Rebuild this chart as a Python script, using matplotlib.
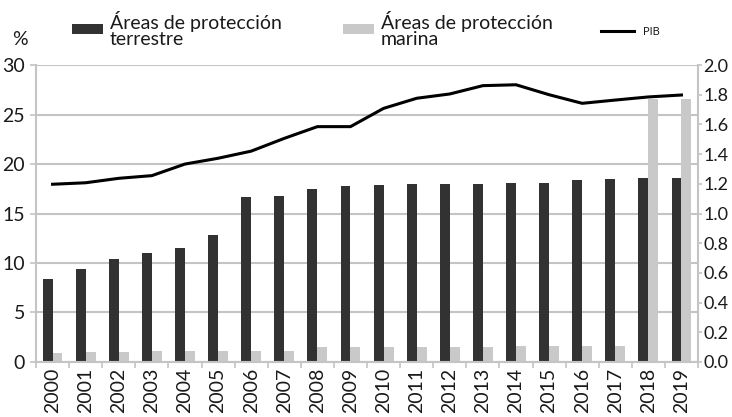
import numpy as np
import matplotlib.pyplot as plt

years = [str(y) for y in range(2000, 2020)]
terrestre = [8.4, 9.4, 10.45, 11.0, 11.5, 12.8, 16.7, 16.8, 17.45, 17.8,
             17.9, 17.95, 17.95, 17.95, 18.05, 18.05, 18.4, 18.5, 18.6, 18.6]
marina = [0.95, 1.0, 1.0, 1.1, 1.1, 1.1, 1.15, 1.1, 1.5, 1.5,
          1.55, 1.55, 1.55, 1.55, 1.65, 1.65, 1.65, 1.65, 26.6, 26.6]
pib = [1.197, 1.207, 1.237, 1.255, 1.333, 1.372, 1.42, 1.506, 1.585, 1.585,
       1.708, 1.776, 1.805, 1.861, 1.867, 1.80, 1.742, 1.764, 1.785, 1.798]

plt.rcParams['font.family'] = ['Lato', 'DejaVu Sans']

grid_c = '#c4c4c4'
dark = '#323232'
light = '#c9c9c9'
txt = '#1a1a1a'
fs = 14

fig = plt.figure(figsize=(7.32, 4.17), dpi=100)
ax = fig.add_axes([0.0492, 0.1319, 0.9044, 0.7122])
x = np.arange(len(years))
w = 0.3

ax.set_axisbelow(True)
ax.yaxis.grid(True, color=grid_c, lw=1.5)
b1 = ax.bar(x - w / 2, terrestre, w, color=dark, label='Áreas de protección\nterrestre')
b2 = ax.bar(x + w / 2, marina, w, color=light, label='Áreas de protección\nmarina')
ax.set_xlim(-0.5, len(years) - 0.5)
ax.set_ylim(0, 30)
ax.set_yticks(range(0, 31, 5))
ax.set_xticks(x)
ax.set_xticklabels(years, rotation=90)
ax.set_xticks(np.arange(-0.5, len(years), 1), minor=True)
ax.tick_params(axis='x', which='major', length=0, pad=4, labelsize=fs, labelcolor=txt)
ax.tick_params(axis='x', which='minor', length=4, color=grid_c, width=1.2)
ax.tick_params(axis='y', length=4, color=grid_c, width=1.2, labelsize=fs, pad=4,
               labelcolor=txt)
for s in ['top', 'right']:
    ax.spines[s].set_visible(False)
for s in ['left', 'bottom']:
    ax.spines[s].set_color(grid_c)
    ax.spines[s].set_linewidth(1.5)

ax2 = ax.twinx()
l1, = ax2.plot(x, pib, color='black', lw=2.2, label='PIB')
ax2.set_ylim(0, 2.0)
ax2.set_yticks(np.arange(0, 2.01, 0.2))
ax2.set_yticklabels([f'{v:.1f}' for v in np.arange(0, 2.01, 0.2)])
ax2.tick_params(axis='y', length=3, color=grid_c, width=1.2, labelsize=13, pad=1,
                labelcolor=txt)
for s in ['top', 'left', 'bottom']:
    ax2.spines[s].set_visible(False)
ax2.spines['right'].set_color(grid_c)
ax2.spines['right'].set_linewidth(1.5)

fig.text(0.016, 0.905, '%', fontsize=fs, va='center', color=txt)

leg_kw = dict(frameon=False, fontsize=fs, handlelength=1.6, handleheight=0.4,
              handletextpad=0.35, labelspacing=0, labelcolor=txt)
leg1 = fig.legend(handles=[b1], loc='center left', bbox_to_anchor=(0.074, 0.93), **leg_kw)
leg2 = fig.legend(handles=[b2], loc='center left', bbox_to_anchor=(0.4447, 0.93), **leg_kw)
leg3 = fig.legend(handles=[l1], loc='center left', bbox_to_anchor=(0.807, 0.925),
                  frameon=False, fontsize=8, handlelength=3.0, handletextpad=0.8,
                  labelcolor=txt)
for t in leg1.get_texts() + leg2.get_texts():
    t.set_linespacing(0.95)

fig.savefig('out.png', dpi=100)
